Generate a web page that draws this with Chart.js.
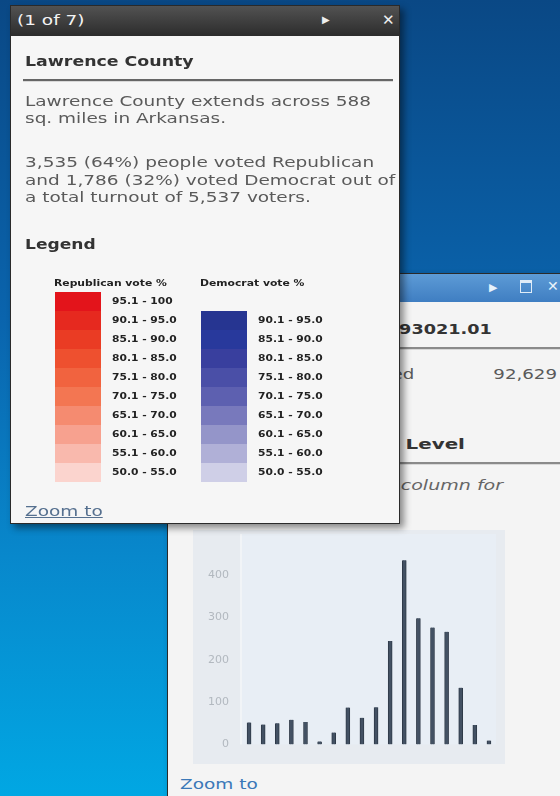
<!DOCTYPE html>
<html>
<head>
<meta charset="utf-8">
<script src="https://cdn.jsdelivr.net/npm/chart.js@4.4.1/dist/chart.umd.min.js"></script>
<style>
  html, body { margin: 0; padding: 0; }
  body {
    width: 560px; height: 796px; overflow: hidden; position: relative;
    background: linear-gradient(to bottom, #0a4885 0%, #0a64ad 40%, #0888cc 70%, #01a7e3 100%);
    font-family: "DejaVu Sans", Verdana, sans-serif;
  }
  .abs { position: absolute; white-space: nowrap; }
  .sx { transform: scaleX(1.26); transform-origin: 0 0; }
  .sxb { transform: scaleX(1.32); transform-origin: 0 0; }
  .sxr { transform: scaleX(1.3); transform-origin: 100% 0; text-align: right; }
  .popup { position: absolute; background: #f6f6f6; border: 1px solid #2a2a2a;
           box-shadow: 4px 4px 7px rgba(0,0,0,0.45); }
  .t14 { font-size: 14px; line-height: 17px; color: #5a5a5a; }
  .b14 { font-size: 14px; line-height: 17px; color: #333; font-weight: bold; }
  .hr { position: absolute; height: 2px; background: #8a8a8a; border-bottom: 1px solid #d8d8d8; }
  .sw { position: absolute; height: 19px; }
  .lg { font-size: 8.5px; line-height: 10px; font-weight: bold; color: #222; }
</style>
</head>
<body>

<!-- back popup with the chart -->
<div class="popup" style="left:167px; top:273px; width:420px; height:560px; background:#f4f4f4;"></div>
<div class="abs" style="left:168px; top:274px; width:392px; height:28px; background:linear-gradient(#5d9bd6,#3f7ec2);"></div>
<div class="abs" style="left:489px; top:281px; font-size:11px; color:#e8f2fb;">&#9654;</div>
<div class="abs" style="left:520px; top:280px; width:10px; height:9px; border:1.5px solid #e0ecf8; border-top-width:3px;"></div>
<div class="abs" style="left:547px; top:278px; font-size:14px; font-weight:bold; color:#e8f2fb;">&#10005;</div>

<div class="abs b14 sxr" style="right:68px; top:321px; transform:scaleX(1.26);">Tract 93021.01</div>
<div class="hr" style="left:168px; top:347px; width:392px;"></div>
<div class="abs t14 sxr" style="right:146px; top:366px;">Surveyed</div>
<div class="abs t14 sxr" style="right:3px; top:366px;">92,629</div>
<div class="abs b14 sxr" style="right:95px; top:436px; transform:scaleX(1.42);">Poverty Level</div>
<div class="hr" style="left:168px; top:462px; width:392px;"></div>
<div class="abs t14 sxr" style="right:57px; top:477px; font-style:italic; color:#666; transform:scaleX(1.36);">Click a column for</div>

<div class="abs" style="left:193px; top:530px; width:312px; height:234px;">
  <canvas id="histChart" width="312" height="234"></canvas>
</div>
<div class="abs t14 sxb" style="left:180px; top:776px; color:#3b78b8;">Zoom to</div>

<!-- front popup with the legend -->
<div class="popup" style="left:10px; top:5px; width:388px; height:517px; z-index:2;">
</div>
<div style="position:absolute; left:0; top:0; width:560px; height:796px; z-index:3; pointer-events:none;">
  <div class="abs" style="left:11px; top:6px; width:388px; height:30px; background:linear-gradient(#525252,#2c2c2c);"></div>
  <div class="abs sxb" style="left:17px; top:12px; font-size:14px; line-height:17px; color:#f4f4f4;">(1 of 7)</div>
  <div class="abs" style="left:322px; top:14px; font-size:10px; color:#eee;">&#9654;</div>
  <div class="abs" style="left:382px; top:11px; font-size:15px; font-weight:bold; color:#eee;">&#10005;</div>

  <div class="abs b14 sx" style="left:25px; top:53px; transform:scaleX(1.24);">Lawrence County</div>
  <div class="hr" style="left:23px; top:79px; width:370px; background:#666;"></div>
  <div class="abs t14 sxb" style="left:25px; top:93px;">Lawrence County extends across 588<br>sq. miles in Arkansas.</div>
  <div class="abs t14 sxb" style="left:25px; top:154px; line-height:17.5px;">3,535 (64%) people voted Republican<br>and 1,786 (32%) voted Democrat out of<br>a total turnout of 5,537 voters.</div>
  <div class="abs b14 sx" style="left:25px; top:236px; transform:scaleX(1.22);">Legend</div>

  <div class="abs lg sx" style="left:54px; top:278px; font-size:9px; transform:scaleX(1.2);">Republican vote %</div>
  <div class="abs lg sx" style="left:200px; top:278px; font-size:9px; transform:scaleX(1.2);">Democrat vote %</div>
  <div id="legendRep"></div>
  <div id="legendDem"></div>

  <div class="abs t14 sxb" style="left:25px; top:503px; color:#56708f; text-decoration:underline;">Zoom to</div>
</div>

<script>
// legend classes of the map
var repRanges = ['95.1 - 100', '90.1 - 95.0', '85.1 - 90.0', '80.1 - 85.0', '75.1 - 80.0',
                 '70.1 - 75.0', '65.1 - 70.0', '60.1 - 65.0', '55.1 - 60.0', '50.0 - 55.0'];
var repColors = ['#e3141b', '#e6291f', '#ea3c24', '#ee502f', '#f1633f',
                 '#f37652', '#f58b70', '#f7a18f', '#f9b9ad', '#fbd4ce'];
var demRanges = ['90.1 - 95.0', '85.1 - 90.0', '80.1 - 85.0', '75.1 - 80.0',
                 '70.1 - 75.0', '65.1 - 70.0', '60.1 - 65.0', '55.1 - 60.0', '50.0 - 55.0'];
var demColors = ['#263591', '#28399c', '#393f9e', '#4a4fa7', '#5d60b0',
                 '#7879bc', '#9495c9', '#b0b0d7', '#cfcfe7'];

// histogram
var categories = ['1', '2', '3', '4', '5', '6', '7', '8', '9',
                  '10', '11', '12', '13', '14', '15', '16', '17', '18'];
var counts = [52, 47, 50, 58, 53, 7, 28, 87, 63, 88, 244, 435, 298, 276, 266, 134, 46, 9];
var yTicks = [0, 100, 200, 300, 400];

function buildLegend(id, left, top, ranges, colors) {
    var html = '';
    for (var i = 0; i < ranges.length; i++) {
        var y = top + i * 19;
        html += '<div class="sw" style="left:' + left + 'px; top:' + y + 'px; width:46px; background:' + colors[i] + ';"></div>';
        html += '<div class="abs lg sx" style="left:' + (left + 57) + 'px; top:' + (y + 4) + 'px;">' + ranges[i] + '</div>';
    }
    document.getElementById(id).innerHTML = html;
}
buildLegend('legendRep', 55, 292, repRanges, repColors);
buildLegend('legendDem', 201, 311, demRanges, demColors);

// fond du graphique
var bgPlugin = {
    id: 'bg',
    beforeDraw: function(chart) {
        var c = chart.ctx, a = chart.chartArea;
        c.save();
        c.fillStyle = '#e7ebf0';
        c.fillRect(0, 0, chart.width, chart.height);
        c.fillStyle = '#e8eef5';
        c.fillRect(a.left, 4, a.right - a.left, a.bottom - 4);
        c.fillStyle = '#f1f4f7';
        c.fillRect(a.left - 2, 4, 2, a.bottom - 4);
        c.restore();
    }
};

var ctx = document.getElementById('histChart').getContext('2d');
var histChart = new Chart(ctx, {
    type: 'bar',
    data: {
        labels: categories,
        datasets: [{
            data: counts,
            backgroundColor: '#435163',
            borderColor: '#2f3a48',
            borderWidth: { left: 1, right: 1, top: 0, bottom: 0 },
            barThickness: 4
        }]
    },
    options: {
        responsive: false,
        animation: false,
        layout: { padding: { top: 6, right: 9, bottom: 18, left: 0 } },
        plugins: { legend: { display: false }, tooltip: { enabled: false } },
        scales: {
            x: {
                grid: { display: false, drawTicks: false },
                border: { display: false },
                ticks: { display: false }
            },
            y: {
                min: 0,
                max: 460,
                afterBuildTicks: function(scale) {
                    scale.ticks = yTicks.map(function(v) { return { value: v }; });
                },
                afterFit: function(scale) { scale.width = 49; },
                grid: { display: false, drawTicks: false },
                border: { display: false },
                ticks: { color: '#b2b8bf', padding: 13, font: { family: 'DejaVu Sans', size: 11 } }
            }
        }
    },
    plugins: [bgPlugin]
});
</script>
</body>
</html>
